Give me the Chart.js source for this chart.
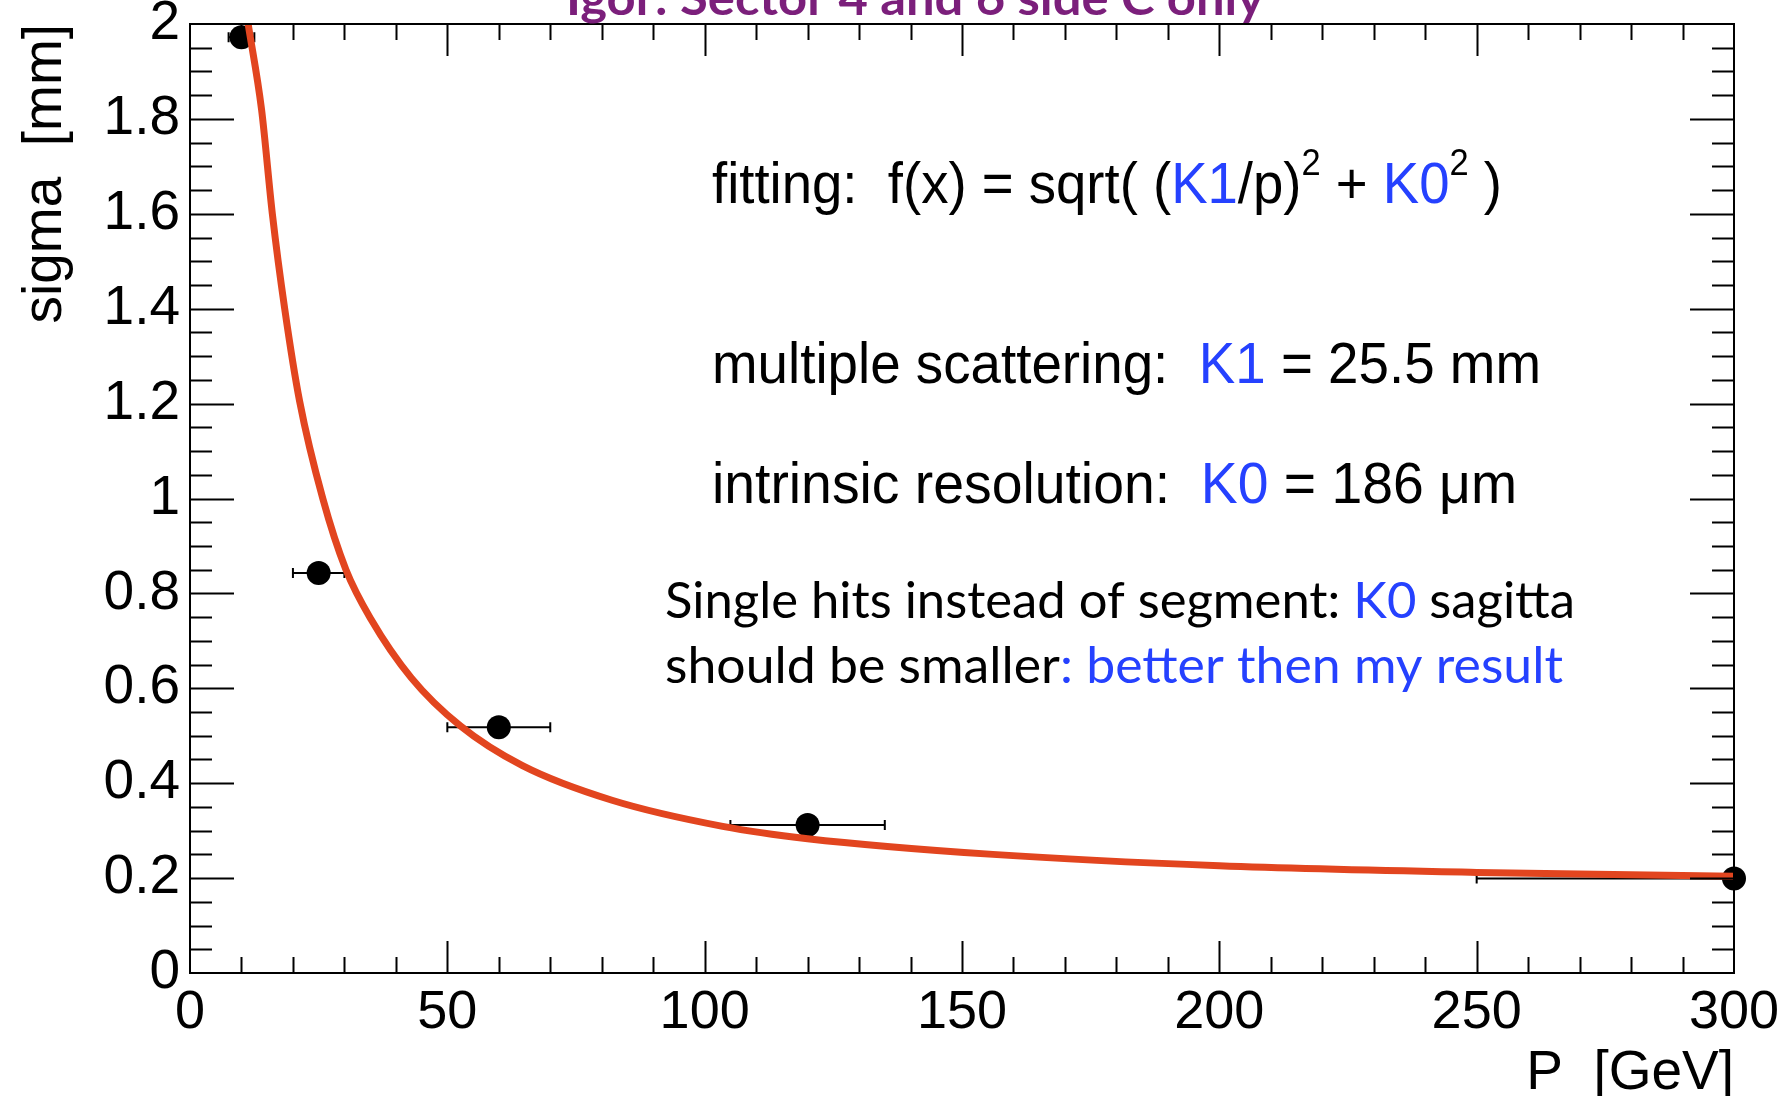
<!DOCTYPE html>
<html>
<head>
<meta charset="utf-8">
<title>sigma vs P</title>
<script src="https://cdn.jsdelivr.net/npm/chart.js@4.4.1/dist/chart.umd.min.js"></script>
<style>
  html, body { margin: 0; padding: 0; background: #fff; }
  #wrap { position: relative; width: 1786px; height: 1096px; }
</style>
</head>
<body>
<div id="wrap"><canvas id="sigmaChart" width="1786" height="1096"></canvas></div>
<script>
// measured points (P in GeV, sigma in mm) with horizontal error bars
const pVals = [10, 25, 60, 120, 300];
const sigmaVals = [1.972, 0.843, 0.518, 0.312, 0.199];
const pErrLow = [2.5, 5, 10, 15, 50];
const pErrHigh = [2.5, 5, 10, 15, 50];

// fitted curve
const fitP = [11.3, 13.9, 16.0, 18.4, 21.3, 25.8, 30.3, 35.2, 43.0, 52.5, 64.6, 82.0, 103.5, 120, 156, 200, 250, 300];
const fitSigma = [2.0, 1.82, 1.6, 1.4, 1.205, 1.0, 0.850, 0.745, 0.622, 0.521, 0.437, 0.364, 0.309, 0.283, 0.250, 0.226, 0.212, 0.204];

const xTicks = [0, 50, 100, 150, 200, 250, 300];
const yTicks = [0, 0.2, 0.4, 0.6, 0.8, 1, 1.2, 1.4, 1.6, 1.8, 2];

const BLUE = '#2541ff';
const RED = '#e2451f';
const HELV = "'Liberation Sans', Arial, Helvetica, sans-serif";

Chart.defaults.font.family = HELV;
Chart.defaults.color = '#000';

// ROOT style frame with inner ticks on all four sides
const frameTicks = {
  id: 'frameTicks',
  afterDatasetsDraw(chart) {
    const {ctx, chartArea: a, scales: {x, y}} = chart;
    ctx.save();
    ctx.strokeStyle = '#000';
    ctx.lineWidth = 2;
    ctx.strokeRect(a.left, a.top, a.right - a.left, a.bottom - a.top);
    ctx.beginPath();
    for (let i = 1; i < 30; i++) {
      const px = Math.round(x.getPixelForValue(i * 10)) + 0.5;
      const len = i % 5 === 0 ? 32 : 16;
      ctx.moveTo(px, a.bottom); ctx.lineTo(px, a.bottom - len);
      ctx.moveTo(px, a.top); ctx.lineTo(px, a.top + len);
    }
    for (let i = 1; i < 40; i++) {
      const py = Math.round(y.getPixelForValue(i * 0.05)) + 0.5;
      const len = i % 4 === 0 ? 44 : 22;
      ctx.moveTo(a.left, py); ctx.lineTo(a.left + len, py);
      ctx.moveTo(a.right, py); ctx.lineTo(a.right - len, py);
    }
    ctx.stroke();
    ctx.restore();
  }
};

// horizontal error bars for the measured points
const errorBars = {
  id: 'errorBars',
  beforeDatasetsDraw(chart) {
    const {ctx, chartArea: a, scales: {x, y}} = chart;
    ctx.save();
    ctx.beginPath();
    ctx.rect(a.left, a.top - 20, a.right - a.left, a.bottom - a.top + 40);
    ctx.clip();
    ctx.strokeStyle = '#000';
    ctx.lineWidth = 2;
    pVals.forEach((p, i) => {
      const py = y.getPixelForValue(sigmaVals[i]);
      const x0 = x.getPixelForValue(p - pErrLow[i]);
      const x1 = x.getPixelForValue(p + pErrHigh[i]);
      ctx.beginPath();
      ctx.moveTo(x0, py); ctx.lineTo(x1, py);
      ctx.moveTo(x0, py - 5); ctx.lineTo(x0, py + 5);
      ctx.moveTo(x1, py - 5); ctx.lineTo(x1, py + 5);
      ctx.stroke();
    });
    ctx.restore();
  }
};

function drawRich(ctx, x, baseline, width, font, supFont, parts) {
  ctx.save();
  let natural = 0;
  parts.forEach(p => {
    ctx.font = p.sup ? supFont : font;
    natural += ctx.measureText(p.t).width;
  });
  ctx.translate(x, baseline);
  ctx.scale(width / natural, 1);
  ctx.textBaseline = 'alphabetic';
  ctx.textAlign = 'left';
  let cx = 0;
  parts.forEach(p => {
    ctx.font = p.sup ? supFont : font;
    ctx.fillStyle = p.c || '#000';
    ctx.fillText(p.t, cx, p.sup ? -28 : 0);
    cx += ctx.measureText(p.t).width;
  });
  ctx.restore();
}

const notes = {
  id: 'notes',
  afterDraw(chart) {
    const ctx = chart.ctx;
    const big = '57px ' + HELV;
    const sup = '36px ' + HELV;
    drawRich(ctx, 566, 15, 698, "bold 48px Lato, 'Open Sans', sans-serif", '', [
      {t: 'Igor: Sector 4 and 6 side C only', c: '#7b1f7b'}
    ]);
    drawRich(ctx, 712, 203, 790, big, sup, [
      {t: 'fitting:  f(x) = sqrt( ('}, {t: 'K1', c: BLUE}, {t: '/p)'}, {t: '2', sup: true},
      {t: ' + '}, {t: 'K0', c: BLUE}, {t: '2', sup: true}, {t: ' )'}
    ]);
    drawRich(ctx, 712, 383, 829, big, sup, [
      {t: 'multiple scattering:  '}, {t: 'K1', c: BLUE}, {t: ' = 25.5 mm'}
    ]);
    drawRich(ctx, 712, 503, 805, big, sup, [
      {t: 'intrinsic resolution:  '}, {t: 'K0', c: BLUE}, {t: ' = 186 \u03bcm'}
    ]);
    const cal = "50px Lato, 'Open Sans', sans-serif";
    drawRich(ctx, 665, 618, 910, cal, cal, [
      {t: 'Single hits instead of segment: '}, {t: 'K0', c: BLUE}, {t: ' sagitta'}
    ]);
    drawRich(ctx, 665, 683, 898, cal, cal, [
      {t: 'should be smaller'}, {t: ': better then my result', c: BLUE}
    ]);
  }
};

const ctx = document.getElementById('sigmaChart').getContext('2d');
new Chart(ctx, {
  type: 'scatter',
  data: {
    datasets: [
      {
        type: 'line',
        label: 'fit',
        data: fitP.map((p, i) => ({x: p, y: fitSigma[i]})),
        borderColor: RED,
        borderWidth: 7,
        pointRadius: 0,
        cubicInterpolationMode: 'monotone',
        fill: false,
        clip: 0,
        order: 0
      },
      {
        label: 'data',
        data: pVals.map((p, i) => ({x: p, y: sigmaVals[i]})),
        backgroundColor: '#000',
        borderWidth: 0,
        pointRadius: 12,
        clip: false,
        order: 1
      }
    ]
  },
  options: {
    responsive: false,
    animation: false,
    layout: { padding: { left: 0, top: 24, right: 52, bottom: 0 } },
    plugins: { legend: { display: false }, tooltip: { enabled: false } },
    scales: {
      x: {
        type: 'linear',
        min: 0, max: 300,
        afterFit(s) {
          s.height = 123;
          s.paddingLeft = 0; s.paddingRight = 0;
        },
        afterBuildTicks(s) { s.ticks = xTicks.map(v => ({value: v})); },
        grid: { display: false, drawTicks: false, tickLength: 0 },
        border: { display: false },
        ticks: { font: { size: 54 }, padding: 8, maxRotation: 0, autoSkip: false,
                 callback: v => String(v) },
        title: { display: true, text: 'P  [GeV]', align: 'end',
                 font: { size: 55, lineHeight: 0.8 }, padding: { top: 0, bottom: 0 } }
      },
      y: {
        type: 'linear',
        min: 0, max: 2,
        afterFit(s) {
          s.width = 190;
          s.paddingTop = 0; s.paddingBottom = 0;
        },
        afterBuildTicks(s) { s.ticks = yTicks.map(v => ({value: v})); },
        grid: { display: false, drawTicks: false, tickLength: 0 },
        border: { display: false },
        ticks: { font: { size: 55 }, padding: 10, autoSkip: false,
                 callback: v => String(+v.toFixed(1)) },
        title: { display: true, text: 'sigma  [mm]', align: 'end',
                 font: { size: 55, lineHeight: 1 }, padding: { top: 18, bottom: 0 } }
      }
    }
  },
  plugins: [errorBars, frameTicks, notes]
});
</script>
</body>
</html>
